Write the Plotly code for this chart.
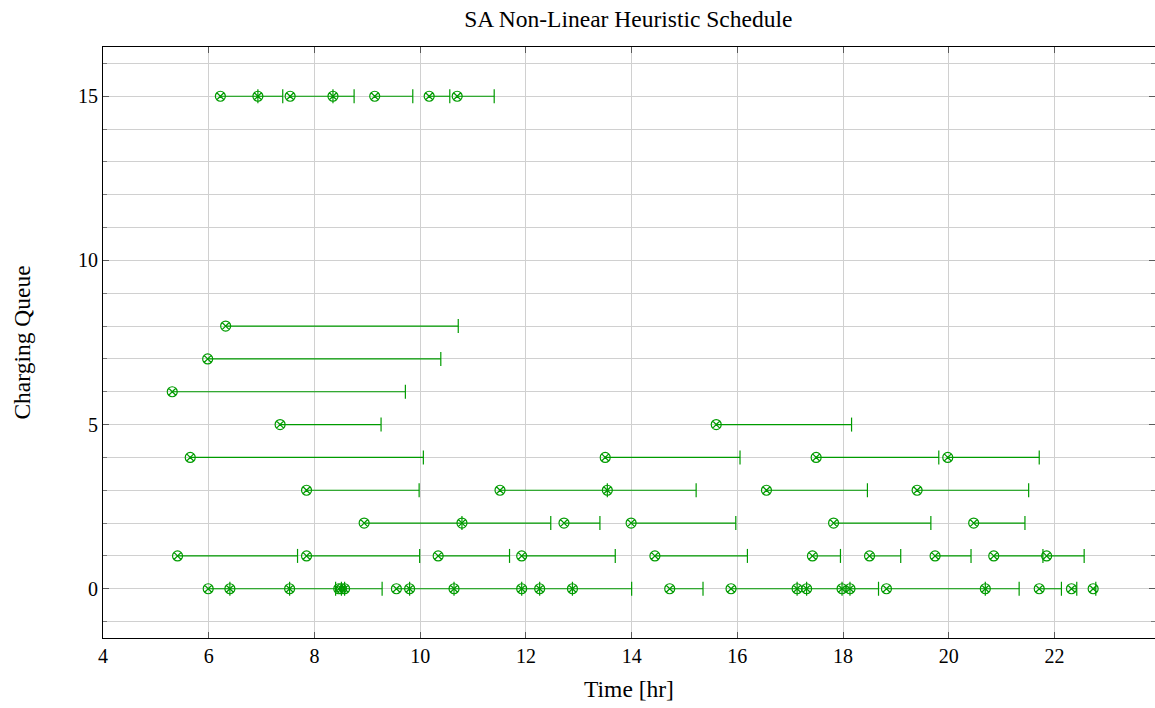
import plotly.graph_objects as go

# Charging sessions: queue index, start time [hr], end time [hr]
queue = [
    15, 15, 15, 15, 15, 15, 15,
    8,
    7,
    6,
    5, 5,
    4, 4, 4, 4,
    3, 3, 3, 3, 3,
    2, 2, 2, 2, 2, 2,
    1, 1, 1, 1, 1, 1, 1, 1, 1, 1,
    0, 0, 0, 0, 0, 0, 0, 0, 0, 0, 0, 0, 0, 0, 0, 0, 0, 0, 0, 0, 0, 0, 0,
]
start = [
    6.22, 6.93, 7.54, 8.35, 9.14, 10.17, 10.70,
    6.32,
    5.98,
    5.31,
    7.35, 15.60,
    5.65, 13.50, 17.49, 19.98,
    7.85, 11.51, 13.54, 16.55, 19.40,
    8.94, 10.79, 12.72, 13.99, 17.82, 20.47,
    5.41, 7.85, 10.34, 11.92, 14.44, 17.42, 18.50, 19.74, 20.85, 21.85,
    5.99, 6.40, 7.53, 8.46, 8.51, 8.57, 9.55, 9.80, 10.64, 11.92, 12.26,
    12.88, 14.72, 15.88, 17.13, 17.31, 17.98, 18.13, 18.82, 20.69, 21.71,
    22.32, 22.73,
]
end = [
    6.93, 7.40, 8.35, 8.75, 9.86, 10.56, 11.40,
    10.72,
    10.39,
    9.72,
    9.26, 18.16,
    10.06, 16.05, 19.81, 21.71,
    9.98, 13.54, 15.22, 18.46, 21.51,
    10.79, 12.47, 13.40, 15.97, 19.66, 21.44,
    7.68, 9.99, 11.69, 13.69, 16.19, 17.95, 19.09, 20.42, 21.78, 22.56,
    6.40, 7.53, 8.40, 8.51, 8.57, 9.28, 9.80, 10.64, 11.92, 12.26, 12.88,
    14.00, 15.35, 17.13, 17.31, 17.98, 18.13, 18.67, 20.69, 21.33, 22.13,
    22.42, 22.78,
]

x_ticks = [4, 6, 8, 10, 12, 14, 16, 18, 20, 22]
y_ticks = [0, 5, 10, 15]

GREEN = "rgb(0,155,0)"
GRID = "rgb(208,208,208)"
FONT = "Liberation Serif"

# Segment polylines separated by gaps
seg_x, seg_y = [], []
for q, s, e in zip(queue, start, end):
    seg_x += [s, e, None]
    seg_y += [q, q, None]

fig = go.Figure()
fig.add_trace(go.Scatter(
    x=seg_x, y=seg_y, mode="lines",
    line=dict(color=GREEN, width=1.1),
    hoverinfo="skip", showlegend=False,
))
fig.add_trace(go.Scatter(
    x=end, y=queue, mode="markers",
    marker=dict(symbol="line-ns-open", size=10, color=GREEN,
                line=dict(color=GREEN, width=1.2)),
    showlegend=False,
))
fig.add_trace(go.Scatter(
    x=start, y=queue, mode="markers",
    marker=dict(symbol="circle-x-open", size=10,
                color=GREEN, line=dict(color=GREEN, width=1.2)),
    showlegend=False,
))

fig.update_layout(
    width=1155, height=708,
    margin=dict(l=103, r=0, t=47, b=70),
    paper_bgcolor="white", plot_bgcolor="white",
    font=dict(family=FONT, size=20, color="black"),
    title=dict(text="SA Non-Linear Heuristic Schedule",
               x=0.544, xanchor="center", y=1 - 19 / 708, yanchor="middle",
               yref="container", font=dict(family=FONT, size=23.5)),
)
fig.update_xaxes(
    range=[4, 23.9], tickvals=x_ticks, ticktext=[str(v) for v in x_ticks],
    ticks="inside", ticklen=6, tickcolor="rgb(90,90,90)", tickwidth=1,
    showline=True, linecolor="black", linewidth=1, mirror="ticks",
    showgrid=True, gridcolor=GRID, gridwidth=1, zeroline=False,
    title=dict(text="Time [hr]", standoff=14, font=dict(size=23.5)),
    tickfont=dict(size=20),
)
fig.update_yaxes(
    range=[-1.5, 16.5], tickvals=y_ticks, ticktext=[str(v) for v in y_ticks],
    ticks="inside", ticklen=6, tickcolor="rgb(90,90,90)", tickwidth=1,
    showline=True, linecolor="black", linewidth=1, mirror="ticks",
    showgrid=True, gridcolor=GRID, gridwidth=1, zeroline=False,
    minor=dict(dtick=1, tick0=0, ticks="inside", ticklen=4,
               tickcolor="rgb(120,120,120)", showgrid=True, gridcolor=GRID),
    title=dict(text="Charging Queue", standoff=40, font=dict(size=23.5)),
    tickfont=dict(size=20),
)

fig.write_html("out.html")
